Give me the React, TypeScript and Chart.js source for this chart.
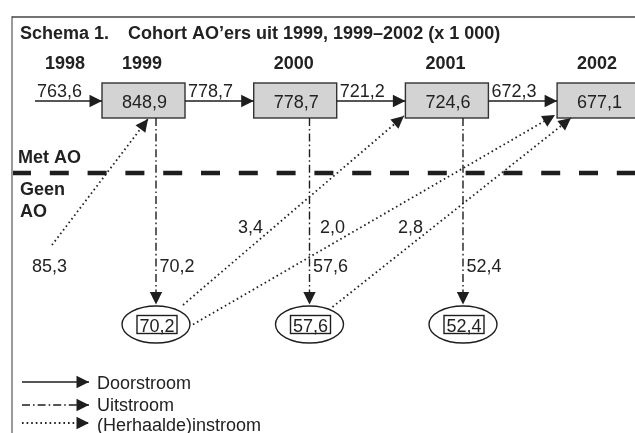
import { useEffect, useRef } from 'react';
import { Chart, registerables } from 'chart.js';

Chart.register(...registerables);

// ---------- data ----------
const TITLE_NUMBER = 'Schema 1.';
const TITLE_TEXT = 'Cohort AO’ers uit 1999, 1999–2002 (x 1 000)';
const START_YEAR = '1998';
const YEARS = ['1999', '2000', '2001', '2002'];
const START_DOORSTROOM = 763.6;
const STOCK = [848.9, 778.7, 724.6, 677.1];
const DOORSTROOM = [778.7, 721.2, 672.3];
const UITSTROOM = [70.2, 57.6, 52.4];
const FIRST_INSTROOM = 85.3;
const HERHAALDE = [3.4, 2.0, 2.8];
const HERHAALDE_FROM = [0, 0, 1]; // uitstroom group (ellipse) index
const HERHAALDE_TO = [2, 3, 3]; // year box entered
const ZONE_LABELS = ['Met AO', 'Geen', 'AO'];
const LEGEND_LABELS = ['Doorstroom', 'Uitstroom', '(Herhaalde)instroom'];

// ---------- layout (diagram units) ----------
const W = 635;
const H = 433;
const BOX_CX0 = 143.5;
const BOX_STEP = 151.7;
const BOX_W = 83;
const BOX_H = 35;
const BOX_CY = 100.5;
const FLOW_Y = 101;
const OUT_X0 = 156;
const OUT_STEP = 153.5;
const ELL_CY = 324.5;
const ELL_RX = 34;
const ELL_RY = 18.5;
const SEP_Y = 173;
const START_X = 35;
const FIRST_IN_START = { x: 52, y: 245 };
const FIRST_IN_TIP_DX = 4.5;
const HER_START_DX = [27, 37, 23];
const HER_START_DY = [-19.5, 0, -17.5];
const HER_TIP_DX = [-43, -43.6, -27.6];
const HER_TIP_DY = [15.5, 14.5, 17.5];
const HER_LABEL_X = [238, 320, 398];
const LEGEND_Y = [382, 405, 423];
const LEGEND_BASE = [389, 411, 431];

const FONT = '"Liberation Sans", Arial, Helvetica, sans-serif';
const INK = '#1e1e1e';
const TEXT = '#222';

const fmt = (v: number) => v.toFixed(1).replace('.', ',');
const boxCx = (i: number) => BOX_CX0 + BOX_STEP * i;
const outX = (i: number) => OUT_X0 + OUT_STEP * i;

const STYLES: Record<string, any> = {
  solid: { borderColor: INK, borderWidth: 1.6, borderDash: [] },
  dashdot: { borderColor: INK, borderWidth: 1.4, borderDash: [8, 3, 1.6, 3] },
  dotted: { borderColor: '#222', borderWidth: 1.8, borderDash: [1.6, 3] },
  sep: { borderColor: INK, borderWidth: 4.3, borderDash: [19, 18.8] },
  frameTop: { borderColor: '#444', borderWidth: 1.5, borderDash: [] },
  frameLeft: { borderColor: '#9a9a9a', borderWidth: 2, borderDash: [] },
};

function buildDatasets() {
  const ds: any[] = [];
  const seg = (a: { x: number; y: number }, b: { x: number; y: number }, style: string, arrow: boolean) => {
    ds.push({
      data: [a, b],
      showLine: true,
      fill: false,
      pointRadius: 0,
      tension: 0,
      borderCapStyle: 'butt',
      arrow,
      ...STYLES[style],
    });
  };
  // frame
  seg({ x: 12, y: 17 }, { x: W, y: 17 }, 'frameTop', false);
  seg({ x: 12, y: 16.3 }, { x: 12, y: H }, 'frameLeft', false);
  // separator
  seg({ x: 12, y: SEP_Y }, { x: W, y: SEP_Y }, 'sep', false);
  // doorstroom
  seg({ x: START_X, y: FLOW_Y }, { x: boxCx(0) - BOX_W / 2, y: FLOW_Y }, 'solid', true);
  DOORSTROOM.forEach((_, i) => {
    seg({ x: boxCx(i) + BOX_W / 2, y: FLOW_Y }, { x: boxCx(i + 1) - BOX_W / 2, y: FLOW_Y }, 'solid', true);
  });
  // uitstroom
  UITSTROOM.forEach((_, i) => {
    seg({ x: outX(i), y: BOX_CY + BOX_H / 2 }, { x: outX(i), y: ELL_CY - ELL_RY - 1.5 }, 'dashdot', true);
  });
  // instroom
  seg(FIRST_IN_START, { x: boxCx(0) + FIRST_IN_TIP_DX, y: BOX_CY + BOX_H / 2 + 1 }, 'dotted', true);
  HERHAALDE.forEach((_, k) => {
    const f = HERHAALDE_FROM[k];
    const t = HERHAALDE_TO[k];
    seg(
      { x: outX(f) + HER_START_DX[k], y: ELL_CY + HER_START_DY[k] },
      { x: boxCx(t) + HER_TIP_DX[k], y: BOX_CY + HER_TIP_DY[k] },
      'dotted',
      true,
    );
  });
  // legend
  const legendStyles = ['solid', 'dashdot', 'dotted'];
  LEGEND_LABELS.forEach((_, i) => {
    seg({ x: 22, y: LEGEND_Y[i] }, { x: 89, y: LEGEND_Y[i] }, legendStyles[i], true);
  });
  return ds;
}

function arrowHead(ctx: CanvasRenderingContext2D, x1: number, y1: number, x2: number, y2: number) {
  const len = 12.5;
  const hw = 6.2;
  const a = Math.atan2(y2 - y1, x2 - x1);
  const bx = x2 - len * Math.cos(a);
  const by = y2 - len * Math.sin(a);
  ctx.save();
  ctx.fillStyle = INK;
  ctx.beginPath();
  ctx.moveTo(x2, y2);
  ctx.lineTo(bx + hw * Math.sin(a), by - hw * Math.cos(a));
  ctx.lineTo(bx - hw * Math.sin(a), by + hw * Math.cos(a));
  ctx.closePath();
  ctx.fill();
  ctx.restore();
}

const diagramPlugin = {
  id: 'diagram',
  beforeDatasetsDraw(chart: any) {
    const ctx: CanvasRenderingContext2D = chart.ctx;
    const sx = (v: number) => chart.scales.x.getPixelForValue(v);
    const sy = (v: number) => chart.scales.y.getPixelForValue(v);
    ctx.save();
    STOCK.forEach((_, i) => {
      const x0 = sx(boxCx(i) - BOX_W / 2);
      const x1 = sx(boxCx(i) + BOX_W / 2);
      const y0 = sy(BOX_CY - BOX_H / 2);
      const y1 = sy(BOX_CY + BOX_H / 2);
      ctx.fillStyle = '#d3d3d3';
      ctx.fillRect(x0, y0, x1 - x0, y1 - y0);
      ctx.strokeStyle = '#333';
      ctx.lineWidth = 1.4;
      ctx.strokeRect(x0, y0, x1 - x0, y1 - y0);
    });
    ctx.restore();
  },
  afterDatasetsDraw(chart: any) {
    const ctx: CanvasRenderingContext2D = chart.ctx;
    const sx = (v: number) => chart.scales.x.getPixelForValue(v);
    const sy = (v: number) => chart.scales.y.getPixelForValue(v);
    ctx.save();
    // ellipses
    UITSTROOM.forEach((v, i) => {
      const cx = sx(outX(i));
      const cy = sy(ELL_CY);
      const rx = sx(outX(i) + ELL_RX) - cx;
      const ry = sy(ELL_CY + ELL_RY) - cy;
      ctx.beginPath();
      ctx.ellipse(cx, cy, rx, Math.abs(ry), 0, 0, Math.PI * 2);
      ctx.fillStyle = '#fff';
      ctx.fill();
      ctx.strokeStyle = INK;
      ctx.lineWidth = 1.4;
      ctx.stroke();
      const rx0 = sx(outX(i) + 1 - 20);
      const ry0 = sy(ELL_CY - 9);
      ctx.lineWidth = 1.4;
      ctx.strokeRect(rx0, ry0, sx(outX(i) + 1 + 20) - rx0, sy(ELL_CY + 9) - ry0);
      ctx.fillStyle = TEXT;
      ctx.font = `18px ${FONT}`;
      ctx.textAlign = 'center';
      ctx.textBaseline = 'alphabetic';
      ctx.fillText(fmt(v), sx(outX(i) + 1), sy(ELL_CY + 7.3));
    });
    // arrowheads
    chart.data.datasets.forEach((d: any, i: number) => {
      if (!d.arrow) return;
      const pts = chart.getDatasetMeta(i).data;
      const a = pts[pts.length - 2];
      const b = pts[pts.length - 1];
      arrowHead(ctx, a.x, a.y, b.x, b.y);
    });
    // texts
    ctx.fillStyle = TEXT;
    ctx.textBaseline = 'alphabetic';
    const txt = (s: string, x: number, y: number, bold: boolean, align: CanvasTextAlign) => {
      ctx.font = `${bold ? 'bold ' : ''}18px ${FONT}`;
      ctx.textAlign = align;
      ctx.fillText(s, sx(x), sy(y));
    };
    txt(TITLE_NUMBER, 20, 39, true, 'left');
    txt(TITLE_TEXT, 128, 39, true, 'left');
    txt(START_YEAR, 65, 69, true, 'center');
    YEARS.forEach((y, i) => txt(y, boxCx(i) - 1.5, 69, true, 'center'));
    STOCK.forEach((v, i) => txt(fmt(v), boxCx(i) + 1, 108, false, 'center'));
    txt(fmt(START_DOORSTROOM), START_X + 2, 97, false, 'left');
    DOORSTROOM.forEach((v, i) => txt(fmt(v), boxCx(i) + BOX_W / 2 + 3, 97, false, 'left'));
    UITSTROOM.forEach((v, i) => txt(fmt(v), outX(i) + 3.5, 272, false, 'left'));
    txt(fmt(FIRST_INSTROOM), 32, 272, false, 'left');
    HERHAALDE.forEach((v, k) => txt(fmt(v), HER_LABEL_X[k], 233, false, 'left'));
    txt(ZONE_LABELS[0], 18, 163, true, 'left');
    txt(ZONE_LABELS[1], 20, 195, true, 'left');
    txt(ZONE_LABELS[2], 20, 217, true, 'left');
    LEGEND_LABELS.forEach((l, i) => txt(l, 97, LEGEND_BASE[i], false, 'left'));
    ctx.restore();
  },
};

export default function App() {
  const ref = useRef<HTMLCanvasElement>(null);
  useEffect(() => {
    const chart = new Chart(ref.current as HTMLCanvasElement, {
      type: 'scatter',
      data: { datasets: buildDatasets() },
      options: {
        responsive: false,
        animation: false,
        events: [],
        layout: { padding: 0 },
        plugins: { legend: { display: false }, tooltip: { enabled: false }, title: { display: false } },
        scales: {
          x: { type: 'linear', min: 0, max: W, display: false },
          y: { type: 'linear', min: 0, max: H, reverse: true, display: false },
        },
      },
      plugins: [diagramPlugin],
    } as any);
    return () => chart.destroy();
  }, []);
  return (
    <div style={{ position: 'fixed', left: 0, top: 0, width: W, height: H, background: '#fff' }}>
      <canvas ref={ref} width={W} height={H} style={{ display: 'block', width: W, height: H }} />
    </div>
  );
}
